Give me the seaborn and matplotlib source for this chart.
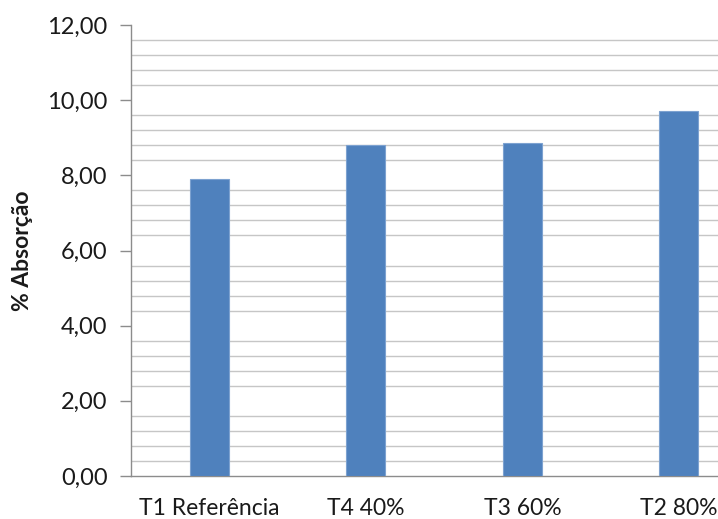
import matplotlib
matplotlib.use("Agg")
import matplotlib.pyplot as plt
from matplotlib.ticker import MultipleLocator
import seaborn as sns
import pandas as pd

categories = ["T1 Referência", "T4 40%", "T3 60%", "T2 80%"]
absorcao = [7.89, 8.82, 8.85, 9.70]
y_ticks = [0, 2, 4, 6, 8, 10, 12]
y_tick_labels = ["0,00", "2,00", "4,00", "6,00", "8,00", "10,00", "12,00"]

sns.set_theme(style="white")
plt.rcParams["font.family"] = ["Lato", "DejaVu Sans"]

df = pd.DataFrame({"tratamento": categories, "absorcao": absorcao})

fig = plt.figure(figsize=(7.18, 5.19), dpi=100)
ax = fig.add_axes([131 / 718, 43 / 519, (718 - 131) / 718, 451 / 519])

sns.barplot(data=df, x="tratamento", y="absorcao", ax=ax, color="#4F81BD",
            saturation=1, width=0.25, edgecolor="#7DA2D0", linewidth=0.8,
            errorbar=None, zorder=3)

ax.set_xlim(-0.5, 3.25)
ax.set_ylim(0, 12)
ax.set_yticks(y_ticks)
ax.set_yticklabels(y_tick_labels)
ax.yaxis.set_minor_locator(MultipleLocator(0.4))
ax.grid(False)
ax.grid(True, which="minor", axis="y", color="#C6C6C6", linewidth=1.0, zorder=0)
ax.set_axisbelow(True)

for side in ("top", "right"):
    ax.spines[side].set_visible(False)
for side in ("left", "bottom"):
    ax.spines[side].set_color("#8C8C8C")
    ax.spines[side].set_linewidth(1.0)

ax.tick_params(axis="y", which="major", direction="out", length=8, width=1,
               color="#8C8C8C", labelsize=17, pad=9, left=True)
ax.tick_params(axis="y", which="minor", length=0)
ax.tick_params(axis="x", length=0, labelsize=16.5, pad=16)
for lbl in ax.get_yticklabels() + ax.get_xticklabels():
    lbl.set_color("#1A1A1A")

ax.set_xlabel("")
ax.set_ylabel("% Absorção", fontsize=16.5, fontweight="bold", color="#1A1A1A", labelpad=10)

fig.savefig("out.png", dpi=100)
